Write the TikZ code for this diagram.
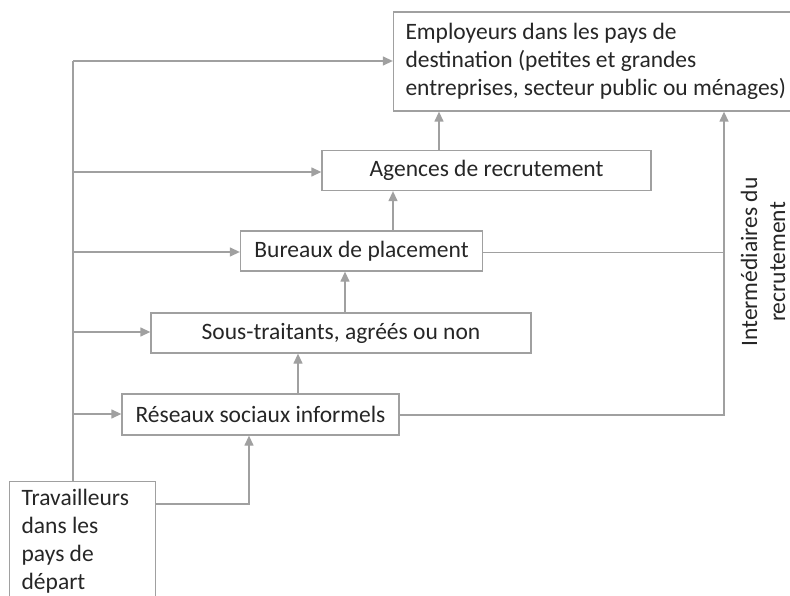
\documentclass[tikz,border=0pt]{standalone}
\usepackage{fontspec}
\setmainfont{Carlito}
\usetikzlibrary{positioning, arrows.meta}

\definecolor{linegray}{HTML}{A0A0A0}
\definecolor{textgray}{HTML}{262626}

\begin{document}
\begin{tikzpicture}[
        x=1pt, y=-1pt,
        font=\fontsize{23.5}{28}\selectfont,
        text=textgray,
        box/.style={
            rectangle,
            draw=linegray,
            line width=1.3pt,
            align=center,
            inner sep=0pt
        },
        arrow/.style={-{Triangle[length=10pt, width=9pt, fill=linegray]}, draw=linegray, line width=1.3pt},
        link/.style={draw=linegray, line width=1.3pt}
        ]
        \useasboundingbox (0,0) rectangle (790,596);

        % Boxes
        \node[box, minimum width=400, minimum height=99, text width=385, align=flush left, inner xsep=12pt] (employers) at (598,61.5)
            {Employeurs dans les pays de\\destination (petites et grandes\\entreprises, secteur public ou ménages)};
        \node[box, minimum width=329, minimum height=40] (agences) at (486.5,170.5) {Agences de recrutement};
        \node[box, minimum width=242, minimum height=40] (bureaux) at (361.5,251) {Bureaux de placement};
        \node[box, minimum width=380, minimum height=40] (soustraitants) at (341,333) {Sous-traitants, agréés ou non};
        \node[box, minimum width=277, minimum height=41] (reseaux) at (260.5,414.5) {Réseaux sociaux informels};
        \node[box, anchor=north west, minimum width=146, text width=122, align=flush left,
              inner xsep=12pt, inner ysep=8pt] (travailleurs) at (9,481)
            {Travailleurs\\dans les\\pays de\\départ};

        % Label
        \node[rotate=90, align=center] (intermediaires) at (763,262) {Intermédiaires du\\recrutement};

        % Left trunk
        \coordinate (trunktop) at (73,61);
        \draw[link] (travailleurs.north -| trunktop) -- (trunktop);
        \draw[arrow] (trunktop) -- (employers.west |- trunktop);
        \draw[arrow] (73,172) -- (agences.west |- 0,172);
        \draw[arrow] (73,252) -- (bureaux.west |- 0,252);
        \draw[arrow] (73,332) -- (soustraitants.west |- 0,332);
        \draw[arrow] (73,414) -- (reseaux.west |- 0,414);

        % Upward chain
        \draw[arrow] (travailleurs.east |- 0,504) -| (reseaux.south -| 249,0);
        \draw[arrow] (reseaux.north -| 298,0) -- (soustraitants.south -| 298,0);
        \draw[arrow] (soustraitants.north -| 345,0) -- (bureaux.south -| 345,0);
        \draw[arrow] (bureaux.north -| 393,0) -- (agences.south -| 393,0);
        \draw[arrow] (agences.north -| 439,0) -- (employers.south -| 439,0);

        % Right intermediaries line
        \coordinate (rightline) at (724,0);
        \draw[arrow] (reseaux.east |- 0,415) -| (employers.south -| rightline);
        \draw[link] (bureaux.east |- 0,252.5) -- (rightline |- 0,252.5);
\end{tikzpicture}
\end{document}
